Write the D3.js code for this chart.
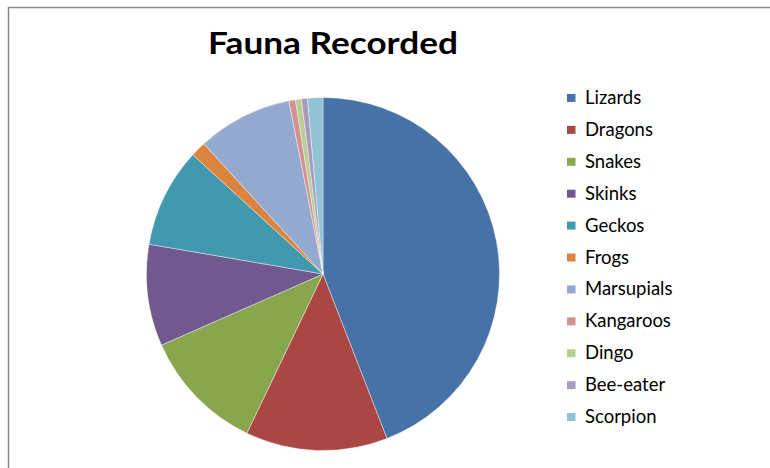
<!DOCTYPE html>
<html>
<head>
<meta charset="utf-8">
<script src="https://cdn.jsdelivr.net/npm/d3@7"></script>
<style>
  html, body { margin: 0; padding: 0; background: #fff; }
  svg { display: block; }
</style>
</head>
<body>
<svg id="chart" width="770" height="468"></svg>
<script>
/* ================================
   DATA
================================ */

const categories = ["Lizards", "Dragons", "Snakes", "Skinks", "Geckos", "Frogs",
                    "Marsupials", "Kangaroos", "Dingo", "Bee-eater", "Scorpion"];
const values = [44.1, 13.0, 11.3, 9.3, 9.1, 1.4, 8.7, 0.6, 0.55, 0.55, 1.4];
const colors = ["#4672a8", "#aa4744", "#89a54e", "#71588f", "#4198af", "#db843d",
                "#93a9cf", "#d19392", "#b9cd96", "#a99bbd", "#92c3d5"];

/* ================================
   PIE
================================ */

const svg = d3.select("#chart");
const width = 770, height = 468;

// chart frame (cropped on right and bottom)
svg.append("path")
  .attr("d", `M8.5,${height} V7.5 H${width}`)
  .attr("fill", "none")
  .attr("stroke", "#868686")
  .attr("stroke-width", 1.5);

svg.append("text")
  .attr("x", 333)
  .attr("y", 54)
  .attr("text-anchor", "middle")
  .attr("textLength", 250)
  .attr("lengthAdjust", "spacingAndGlyphs")
  .style("font-family", "Lato, 'Open Sans', sans-serif")
  .style("font-weight", "700")
  .style("font-size", "31px")
  .style("fill", "#000")
  .text("Fauna Recorded");

const cx = 323, cy = 274, radius = 176.5;

const pie = d3.pie().sort(null).value(d => d.value);
const arc = d3.arc().innerRadius(0).outerRadius(radius);

const data = categories.map((c, i) => ({ name: c, value: values[i] }));

svg.append("g")
  .attr("transform", `translate(${cx},${cy})`)
  .selectAll("path")
  .data(pie(data))
  .join("path")
  .attr("d", arc)
  .attr("fill", (d, i) => colors[i])
  .attr("stroke", "#fff")
  .attr("stroke-width", 0.4);

/* ================================
   LEGEND
================================ */

const legendY = d3.scaleBand()
  .domain(categories)
  .range([82, 433]);

const legend = svg.append("g")
  .selectAll("g")
  .data(categories)
  .join("g")
  .attr("transform", d => `translate(567,${legendY(d) + legendY.bandwidth() / 2})`);

legend.append("rect")
  .attr("x", 0)
  .attr("y", -4)
  .attr("width", 8.5)
  .attr("height", 8)
  .attr("fill", (d, i) => colors[i]);

legend.append("text")
  .attr("x", 18)
  .attr("y", 6)
  .style("font-family", "Lato, 'Open Sans', sans-serif")
  .style("font-size", "18.5px")
  .style("fill", "#000")
  .text(d => d);
</script>
</body>
</html>
